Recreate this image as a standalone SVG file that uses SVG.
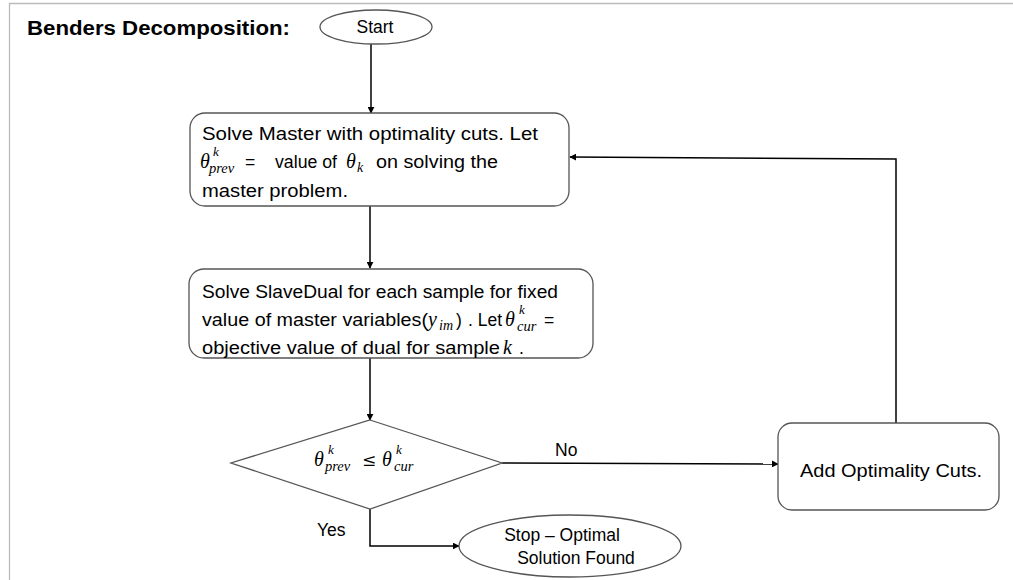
<svg xmlns="http://www.w3.org/2000/svg" width="1013" height="580" viewBox="0 0 1013 580">
<style>
.t{font-family:"Liberation Sans",Arial,sans-serif;font-size:17.5px;fill:#000}
.m{font-family:"Liberation Serif","Times New Roman",serif;font-style:italic;fill:#000}
.mu{font-family:"DejaVu Serif","Liberation Serif",serif;fill:#000}
.box{fill:#fff;stroke:#555;stroke-width:1.3}
.ln{fill:none;stroke:#000;stroke-width:1.5}
</style>
<defs>
<marker id="ah" viewBox="0 0 10 10" refX="9" refY="5" markerWidth="7" markerHeight="7" markerUnits="userSpaceOnUse" orient="auto">
<path d="M0,0 L10,5 L0,10 z" fill="#000"/>
</marker>
</defs>
<rect width="1013" height="580" fill="#fff"/>
<path d="M9.5,580 V3.5 H1013" fill="none" stroke="#bbb" stroke-width="1.3"/>
<text x="27" y="35" style="font-family:'Liberation Sans',Arial,sans-serif;font-weight:bold;font-size:20px" textLength="263" lengthAdjust="spacingAndGlyphs">Benders Decomposition:</text>

<g id="connectors">
<line class="ln" x1="371" y1="44" x2="371" y2="113" marker-end="url(#ah)"/>
<line class="ln" x1="370" y1="206" x2="370" y2="268" marker-end="url(#ah)"/>
<line class="ln" x1="370" y1="358" x2="370" y2="420" marker-end="url(#ah)"/>
<line class="ln" x1="502" y1="463" x2="778" y2="464" marker-end="url(#ah)"/>
<polyline class="ln" points="896,423 896,159 570,157" marker-end="url(#ah)"/>
<polyline class="ln" points="370,509 370,546 459,546" marker-end="url(#ah)"/>
<text class="t" x="555" y="456">No</text>
<text class="t" x="317" y="536">Yes</text>
</g>

<g id="start">
<ellipse cx="376" cy="27" rx="56" ry="17" class="box"/>
<text class="t" x="375" y="33" text-anchor="middle">Start</text>
</g>

<g id="master">
<rect x="190" y="113" width="379" height="93" rx="15" class="box"/>
<text class="t" x="202" y="140" textLength="336" lengthAdjust="spacingAndGlyphs">Solve Master with optimality  cuts. Let</text>
<text class="m" x="200" y="168" font-size="20">θ</text>
<text class="m" x="213" y="156" font-size="13">k</text>
<text class="m" x="209" y="173" font-size="14.5">prev</text>
<text class="t" x="245" y="168">=</text>
<text class="t" x="275" y="168" textLength="62" lengthAdjust="spacingAndGlyphs">value of</text>
<text class="m" x="346" y="168" font-size="20">θ</text>
<text class="m" x="357" y="172" font-size="14">k</text>
<text class="t" x="376" y="168" textLength="122" lengthAdjust="spacingAndGlyphs">on solving the</text>
<text class="t" x="202" y="197" textLength="146" lengthAdjust="spacingAndGlyphs">master problem.</text>
</g>

<g id="slave">
<rect x="189" y="269" width="404" height="89" rx="15" class="box"/>
<text class="t" x="202" y="298" textLength="356" lengthAdjust="spacingAndGlyphs">Solve SlaveDual for each sample for fixed</text>
<text class="t" x="202" y="326" textLength="226" lengthAdjust="spacingAndGlyphs">value of master variables(</text>
<text class="m" x="428" y="326" font-size="20">y</text>
<text class="m" x="439" y="330" font-size="14">im</text>
<text class="t" x="456" y="326">)</text>
<text class="t" x="468" y="326" textLength="34" lengthAdjust="spacingAndGlyphs">. Let</text>
<text class="m" x="505" y="326" font-size="20">θ</text>
<text class="m" x="519" y="314" font-size="13">k</text>
<text class="m" x="517" y="331" font-size="14.5">cur</text>
<text class="t" x="544" y="326">=</text>
<text class="t" x="202" y="354" textLength="298" lengthAdjust="spacingAndGlyphs">objective value of dual for sample</text>
<text class="m" x="503" y="354" font-size="20">k</text>
<text class="t" x="519" y="354">.</text>
</g>

<g id="decision">
<polygon points="370,420 502,463 370,509 231,463" class="box"/>
<text class="m" x="314" y="466" font-size="20">θ</text>
<text class="m" x="328" y="454" font-size="13">k</text>
<text class="m" x="325" y="471" font-size="14.5">prev</text>
<text class="mu" x="362" y="466" font-size="17">≤</text>
<text class="m" x="382" y="466" font-size="20">θ</text>
<text class="m" x="396" y="454" font-size="13">k</text>
<text class="m" x="394" y="471" font-size="14.5">cur</text>
</g>

<g id="add">
<rect x="778" y="423" width="221" height="87" rx="14" class="box"/>
<text class="t" x="891" y="477" text-anchor="middle" textLength="182" lengthAdjust="spacingAndGlyphs">Add Optimality Cuts.</text>
</g>

<g id="stop">
<ellipse cx="570" cy="546" rx="111" ry="31" class="box"/>
<text class="t" x="562" y="541" text-anchor="middle">Stop – Optimal</text>
<text class="t" x="576" y="564" text-anchor="middle">Solution Found</text>
</g>
</svg>
